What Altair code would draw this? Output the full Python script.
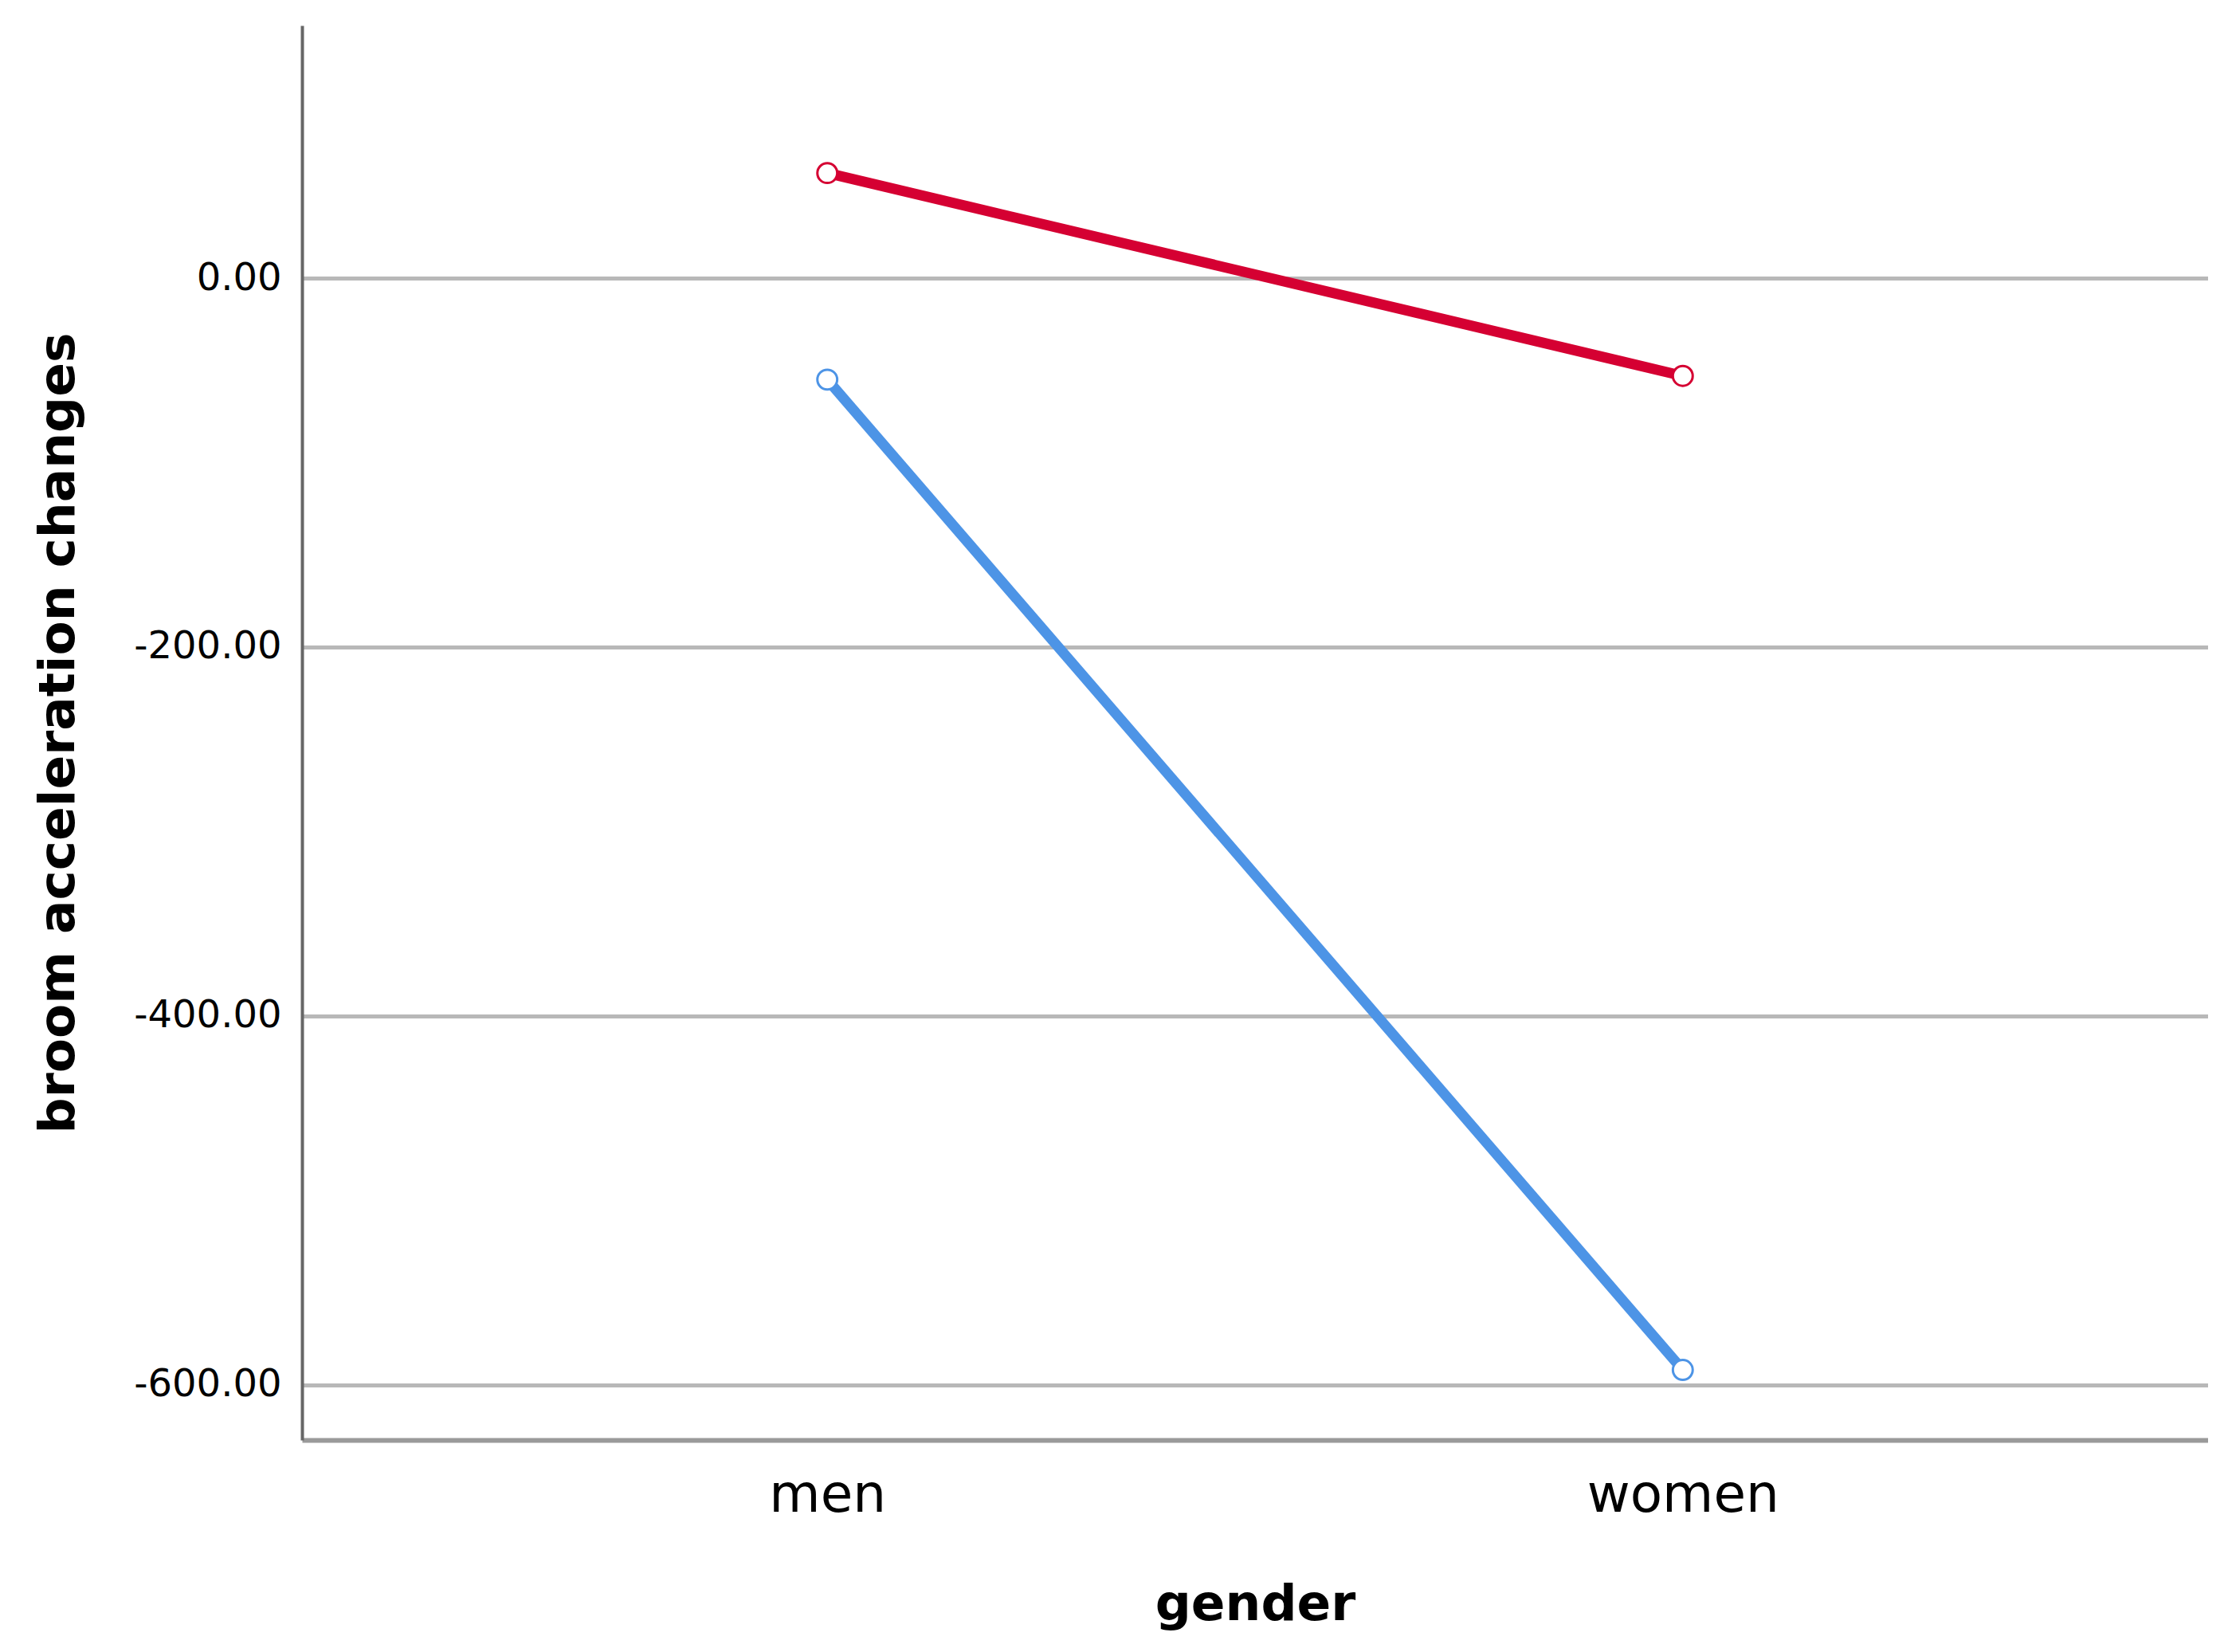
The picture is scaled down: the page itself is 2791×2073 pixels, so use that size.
import altair as alt
import pandas as pd

genders = ["men", "women"]
series_names = ["group 1", "group 2"]
red_values = [57, -53]
blue_values = [-55, -592]
y_ticks = [0, -200, -400, -600]

rows = []
for g, v in zip(genders, red_values):
    rows.append({"gender": g, "series": series_names[0], "value": v})
for g, v in zip(genders, blue_values):
    rows.append({"gender": g, "series": series_names[1], "value": v})
df = pd.DataFrame(rows)

color_scale = alt.Scale(domain=series_names, range=["#D50032", "#4D94E6"])

x_enc = alt.X(
    "gender:N",
    sort=genders,
    scale=alt.Scale(type="point", padding=0.614),
    axis=alt.Axis(
        title="gender",
        labelAngle=0,
        labelFontSize=66,
        labelFont="DejaVu Sans",
        labelColor="#000000",
        labelPadding=37,
        labelLimit=0,
        titleFontSize=63,
        titleFont="DejaVu Sans",
        titleFontWeight="bold",
        titleColor="#000000",
        titlePadding=73,
        ticks=False,
        grid=False,
        domainColor="#9a9a9a",
        domainWidth=6,
    ),
)
y_enc = alt.Y(
    "value:Q",
    scale=alt.Scale(domain=[-630, 137], nice=False, zero=False),
    axis=alt.Axis(
        title="broom acceleration changes",
        values=y_ticks,
        format=".2f",
        labelExpr="replace(datum.label, '\u2212', '-')",
        labelFontSize=48,
        labelFont="DejaVu Sans",
        labelColor="#000000",
        labelPadding=26,
        labelLimit=0,
        titleFontSize=63,
        titleFont="DejaVu Sans",
        titleFontWeight="bold",
        titleColor="#000000",
        titlePadding=74,
        ticks=False,
        grid=True,
        gridColor="#b8b8b8",
        gridWidth=5,
        domainColor="#666666",
        domainWidth=4,
    ),
)

lines = alt.Chart(df).mark_line(strokeWidth=13).encode(
    x=x_enc,
    y=y_enc,
    color=alt.Color("series:N", scale=color_scale, legend=None),
    detail="series:N",
)
points = alt.Chart(df).mark_point(filled=False, fill="white", fillOpacity=1, size=620, strokeWidth=3, shape="circle", opacity=1).encode(
    x=alt.X("gender:N", sort=genders),
    y="value:Q",
    color=alt.Color("series:N", scale=color_scale, legend=None),
)

chart = (
    alt.layer(lines, points)
    .properties(
        width=2392,
        height=1775,
        autosize=alt.AutoSizeParams(type="none"),
        padding={"left": 371, "top": 24, "right": 0, "bottom": 250},
        view=alt.ViewBackground(strokeWidth=0, strokeOpacity=0),
    )
    .configure_view(strokeWidth=0, strokeOpacity=0)
    .configure(background="white")
)

chart.save("out.html", embed_options={"renderer": "svg", "actions": False})
